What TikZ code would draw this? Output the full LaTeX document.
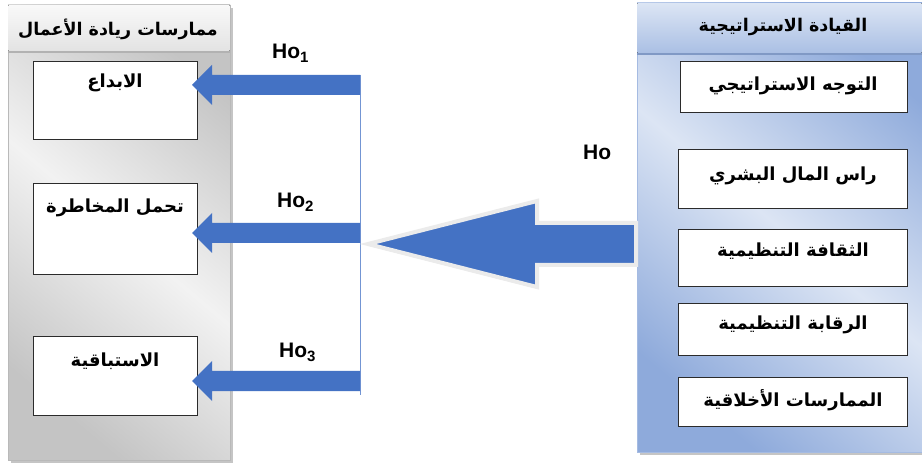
\documentclass[tikz,border=0pt]{standalone}
\usepackage{fontspec}
\setmainfont{Liberation Sans}
\newfontfamily\ar[Script=Arabic]{DejaVu Sans}
\TeXXeTstate=1
\usetikzlibrary{shadows,calc}
\definecolor{arblue}{HTML}{4472C4}
\definecolor{lgdark}{HTML}{C4C4C4}
\definecolor{lglight}{HTML}{F2F2F2}
\definecolor{bldark}{HTML}{8EAADB}
\definecolor{bllight}{HTML}{DCE5F4}
\definecolor{boxline}{HTML}{2B2B2B}
\tikzset{
  lpanel/.style={draw=gray!55, line width=0.8pt, top color=lgdark, bottom color=lgdark, middle color=lglight, shading angle=-40,
    drop shadow={shadow xshift=3pt, shadow yshift=-3pt, opacity=0.45, fill=gray}},
  rpanel/.style={draw=bldark!80, line width=0.8pt, top color=bldark, bottom color=bldark, middle color=bllight, shading angle=-40,
    drop shadow={shadow xshift=3pt, shadow yshift=-3pt, opacity=0.45, fill=gray}},
  lhead/.style={top color=white!95!gray, bottom color=gray!22, draw=none},
  rhead/.style={top color=bllight, bottom color=bldark!75, draw=none},
  wbox/.style={draw=boxline, fill=white, line width=1pt},
  artext/.style={font=\ar\bfseries\fontsize{18}{21}\selectfont, inner sep=0pt},
  headtext/.style={font=\ar\bfseries\fontsize{17.5}{21}\selectfont, inner sep=0pt},
  hotext/.style={font=\bfseries\fontsize{21}{24}\selectfont, inner sep=0pt, anchor=base west},
  bigarrow/.style={fill=arblue, draw=black!8, line width=4pt, line join=miter,
    drop shadow={shadow xshift=1.5pt, shadow yshift=-2pt, opacity=0.35, fill=gray}},
}
\newcommand\hsub[1]{\raisebox{-0.35ex}{\fontsize{15}{15}\selectfont #1}}
\newcommand\smallarrow[2]{%
  \fill[arblue] (#1) -- ($(#1)+(20,-20)$) -- ($(#1)+(20,-10)$) -- ($(#2)+(0,-10)$)
    -- ($(#2)+(0,10)$) -- ($(#1)+(20,10)$) -- ($(#1)+(20,20)$) -- cycle;}
\begin{document}
\begin{tikzpicture}[x=1pt,y=-1pt]
\useasboundingbox (0,0) rectangle (922,465);
\fill[white] (0,0) rectangle (922,465);
% left panel
\node[lpanel, minimum width=222pt, minimum height=455pt, inner sep=0pt] (lp) at (119,232.5) {};
\fill[lhead] (8.4,5.4) rectangle (229.6,51);
\draw[gray!60, line width=2.5pt] (8.4,52) -- (229.6,52);
\node[headtext] (lh) at (118,29) {\beginR ممارسات ريادة الأعمال\endR};
% right panel
\node[rpanel, minimum width=285pt, minimum height=449pt, inner sep=0pt] (rp) at (779.5,227.5) {};
\fill[rhead] (637.4,3.4) rectangle (921.6,53);
\draw[bldark!90!black, line width=2.5pt] (637.4,54) -- (921.6,54);
\node[headtext] (rh) at (783,27) {\beginR القيادة الاستراتيجية\endR};
% left boxes
\draw[wbox] (33,62) rectangle (197,140);
\draw[wbox] (33,184) rectangle (197,275);
\draw[wbox] (33,337) rectangle (197,415);
\node[artext] (l1) at (115,83) {\beginR الابداع\endR};
\node[artext] (l2) at (115,208) {\beginR تحمل المخاطرة\endR};
\node[artext] (l3) at (115,361) {\beginR الاستباقية\endR};
% right boxes
\draw[wbox] (680,62) rectangle (907,113);
\draw[wbox] (678,150) rectangle (907,209);
\draw[wbox] (678,230) rectangle (907,287);
\draw[wbox] (678,304) rectangle (907,356);
\draw[wbox] (678,378) rectangle (907,426);
\node[artext] (r1) at (793,86) {\beginR التوجه الاستراتيجي\endR};
\node[artext] (r2) at (793,176) {\beginR راس المال البشري\endR};
\node[artext] (r3) at (793,251) {\beginR الثقافة التنظيمية\endR};
\node[artext] (r4) at (793,325) {\beginR الرقابة التنظيمية\endR};
\node[artext] (r5) at (793,400) {\beginR الممارسات الأخلاقية\endR};
% vertical connector line
\coordinate (vtop) at (360,75);
\coordinate (vbot) at (360,395);
\draw[arblue!75, line width=0.9pt] (vtop) -- (vbot);
% small arrows
\coordinate (t1) at (192,85);  \coordinate (e1) at (360,85);
\coordinate (t2) at (192,233); \coordinate (e2) at (360,233);
\coordinate (t3) at (192,381); \coordinate (e3) at (360,381);
\smallarrow{t1}{e1}
\smallarrow{t2}{e2}
\smallarrow{t3}{e3}
% big arrow
\coordinate (bt) at (368,244);
\coordinate (be) at (636,244);
\draw[bigarrow] (bt) -- ($(bt)+(169,-43)$) -- ($(bt)+(169,-21)$) -- ($(be)+(0,-21)$)
  -- ($(be)+(0,21)$) -- ($(bt)+(169,21)$) -- ($(bt)+(169,43)$) -- cycle;
% labels
\node[hotext] (h1) at (272,59) {Ho\hsub{1}};
\node[hotext] (h2) at (277,208) {Ho\hsub{2}};
\node[hotext] (h3) at (279,358) {Ho\hsub{3}};
\node[hotext] (h0) at (583,160) {Ho};
\end{tikzpicture}
\end{document}
